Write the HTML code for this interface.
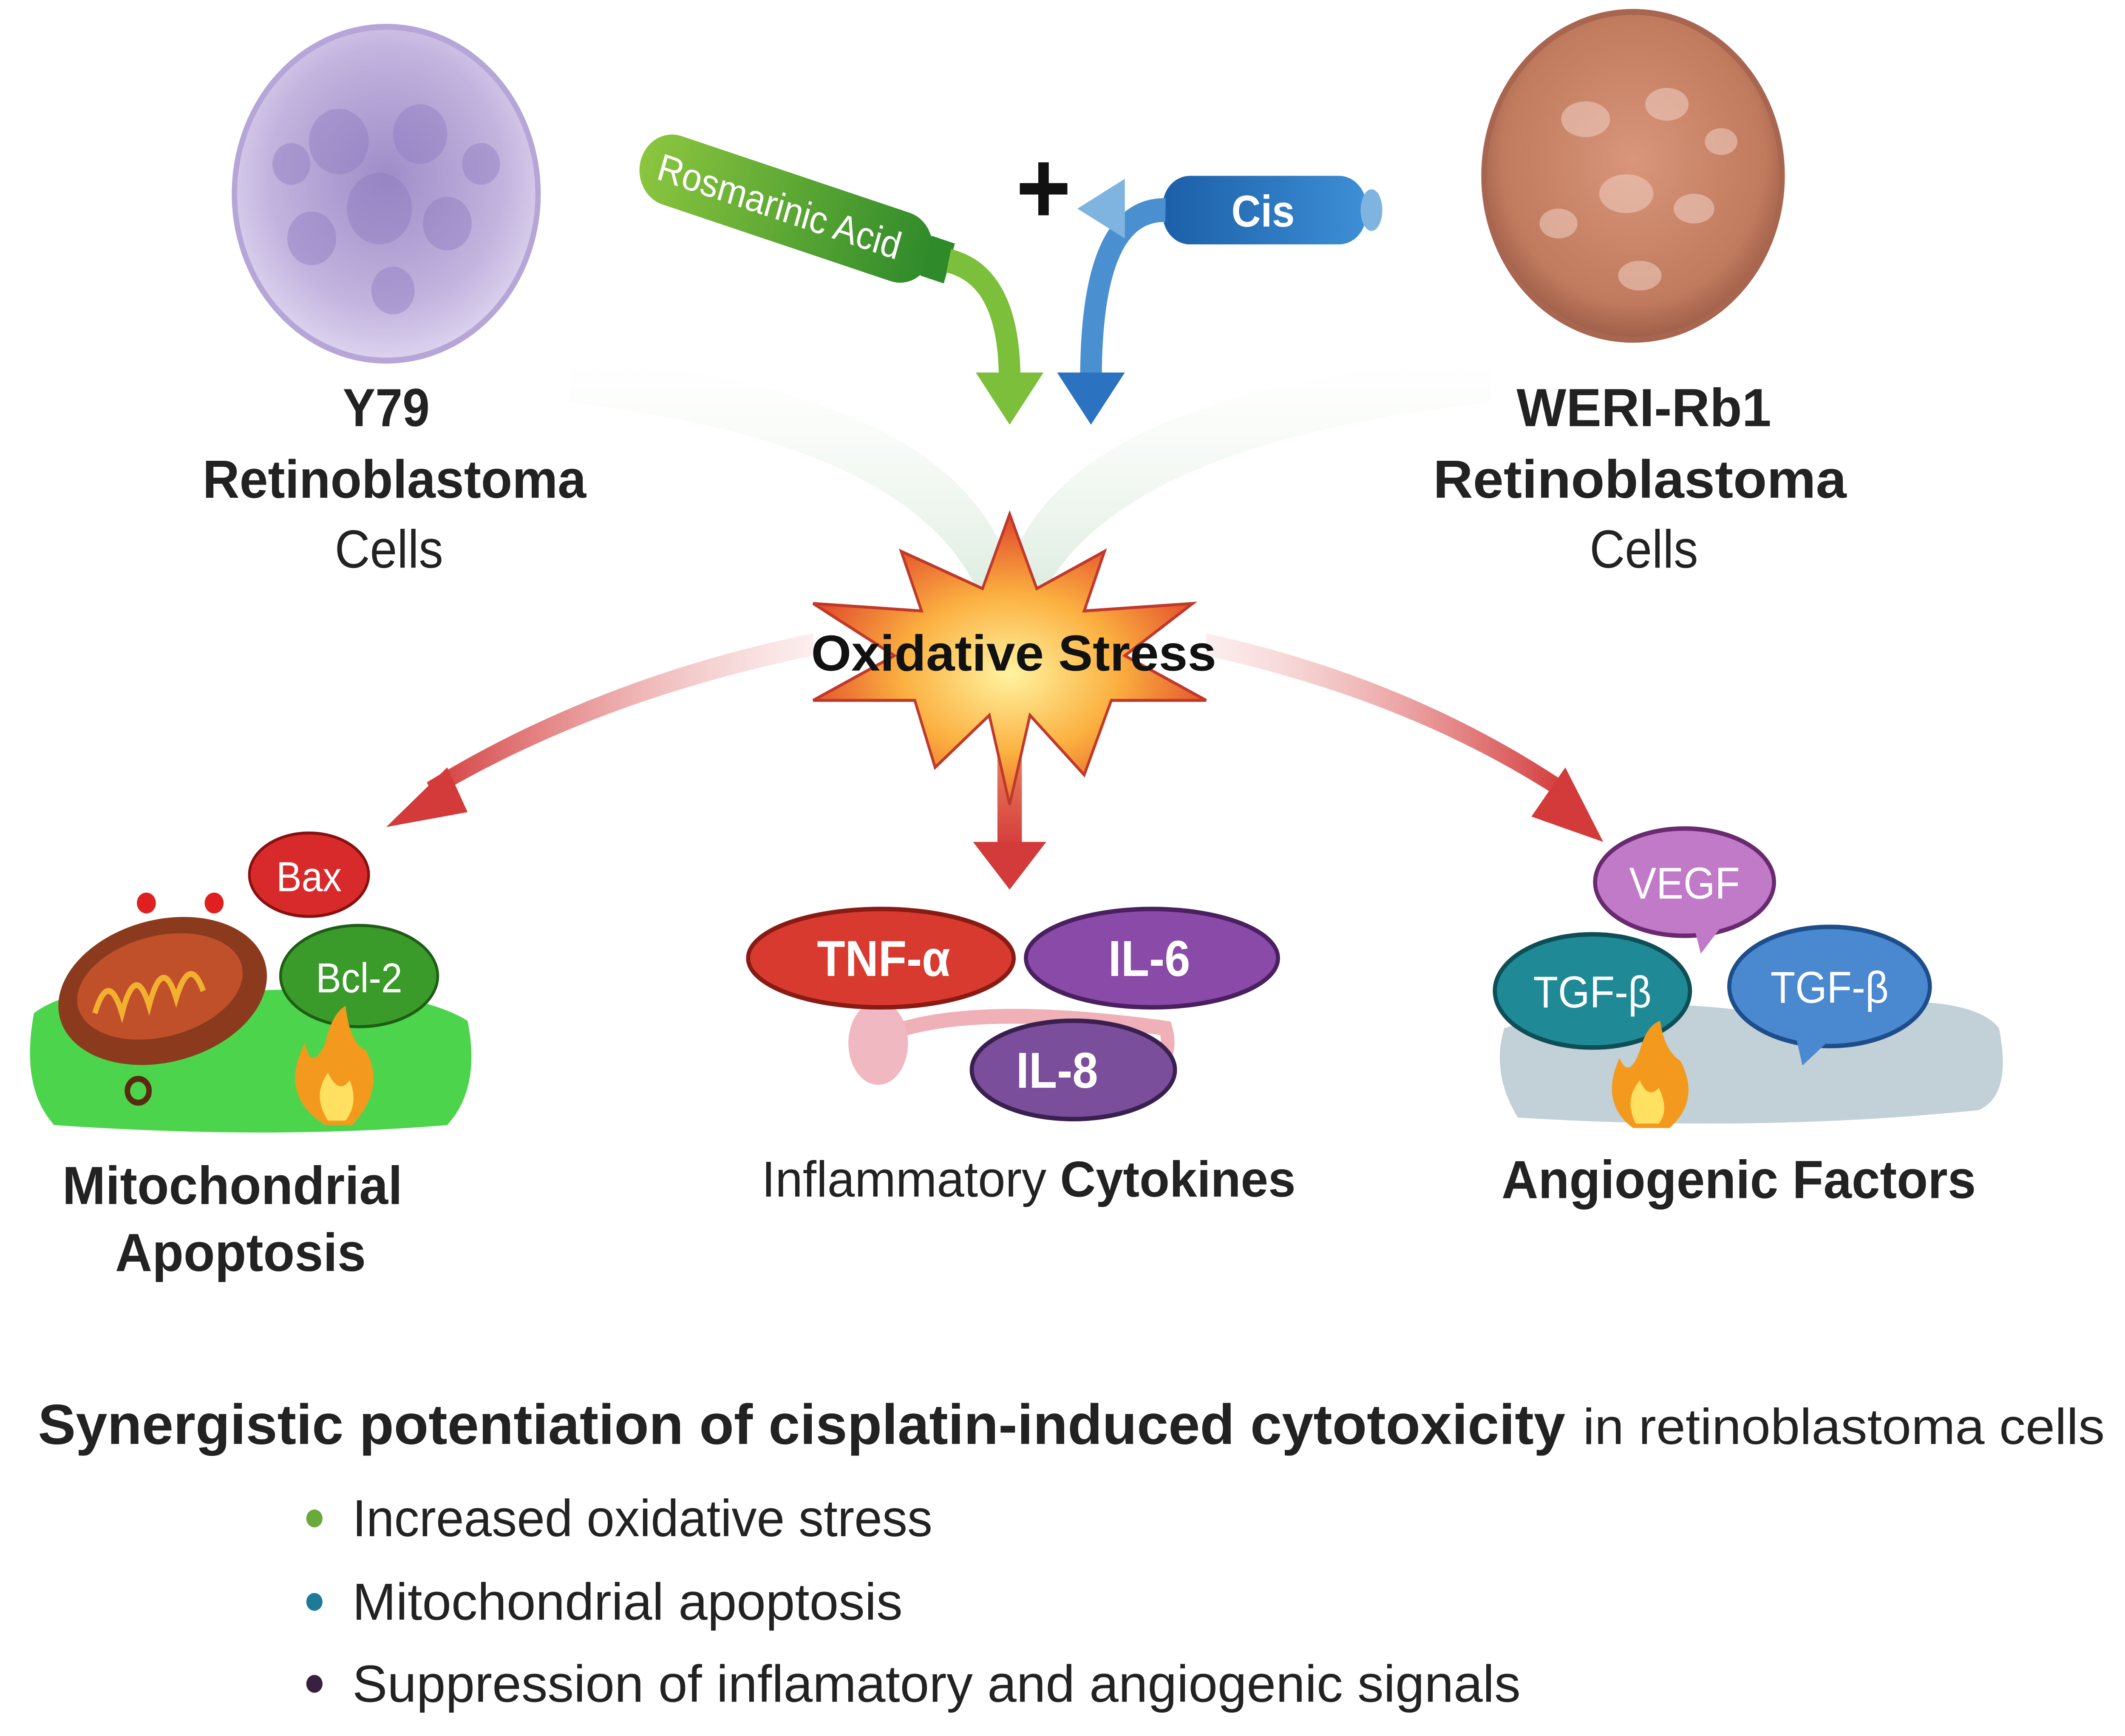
<!DOCTYPE html>
<html><head><meta charset="utf-8"><style>
html,body{margin:0;padding:0;background:#fff;overflow:hidden;width:100%;height:100%;}
svg{display:block;width:100vw;height:100vh;}
text{font-family:"Liberation Sans",Arial,sans-serif;}
</style></head><body>
<svg viewBox="0 0 1568 1165" preserveAspectRatio="none" xmlns="http://www.w3.org/2000/svg">
<defs>
<radialGradient id="purp" cx="50%" cy="45%" r="55%"><stop offset="0" stop-color="#9f8cc8"/><stop offset="0.7" stop-color="#c2b3de"/><stop offset="1" stop-color="#ddd3ee"/></radialGradient>
<radialGradient id="brown" cx="50%" cy="45%" r="55%"><stop offset="0" stop-color="#d9967a"/><stop offset="0.8" stop-color="#c07a5e"/><stop offset="1" stop-color="#9e5e48"/></radialGradient>
<radialGradient id="burst" cx="50%" cy="55%" r="55%"><stop offset="0" stop-color="#fff3a0"/><stop offset="0.5" stop-color="#fbb040"/><stop offset="1" stop-color="#e0452a"/></radialGradient>
<linearGradient id="gtube" x1="0" x2="1"><stop offset="0" stop-color="#8cc63f"/><stop offset="1" stop-color="#2f8a2a"/></linearGradient>
<linearGradient id="btube" x1="0" x2="1"><stop offset="0" stop-color="#1b5fa8"/><stop offset="1" stop-color="#3d8fd6"/></linearGradient>
<linearGradient id="redL" x1="1" x2="0"><stop offset="0" stop-color="#f4c7c7" stop-opacity="0.3"/><stop offset="1" stop-color="#d33a3a"/></linearGradient>
<linearGradient id="redR" x1="0" x2="1"><stop offset="0" stop-color="#f4c7c7" stop-opacity="0.3"/><stop offset="1" stop-color="#d33a3a"/></linearGradient>
<linearGradient id="redD" x1="0" y1="0" x2="0" y2="1"><stop offset="0" stop-color="#f29a6a"/><stop offset="1" stop-color="#d33a3a"/></linearGradient>
<linearGradient id="glow" x1="0" y1="0" x2="0" y2="1"><stop offset="0" stop-color="#e8f2e0" stop-opacity="0"/><stop offset="1" stop-color="#b8d8c0" stop-opacity="0.6"/></linearGradient>
</defs>
<path d="M420 240 Q700 260 745 380 Q790 260 1100 240 L1100 270 Q800 300 760 420 L730 420 Q700 300 420 270 Z" fill="url(#glow)"/>
<circle cx="285" cy="130" r="112" fill="url(#purp)" stroke="#b6a6d8" stroke-width="4"/>
<g fill="#8f7cc0" opacity="0.45">
<circle cx="250" cy="95" r="22"/><circle cx="310" cy="90" r="20"/><circle cx="280" cy="140" r="24"/><circle cx="330" cy="150" r="18"/><circle cx="230" cy="160" r="18"/><circle cx="290" cy="195" r="16"/><circle cx="215" cy="110" r="14"/><circle cx="355" cy="110" r="14"/>
</g>
<circle cx="1205" cy="118" r="110" fill="url(#brown)" stroke="#a86650" stroke-width="4"/>
<g fill="#f0d0c4" opacity="0.55">
<ellipse cx="1170" cy="80" rx="18" ry="12"/><ellipse cx="1230" cy="70" rx="16" ry="11"/><ellipse cx="1200" cy="130" rx="20" ry="13"/><ellipse cx="1250" cy="140" rx="15" ry="10"/><ellipse cx="1150" cy="150" rx="14" ry="10"/><ellipse cx="1210" cy="185" rx="16" ry="10"/><ellipse cx="1270" cy="95" rx="12" ry="9"/>
</g>
<g font-size="36" font-weight="bold" fill="#222" text-anchor="middle" lengthAdjust="spacingAndGlyphs">
<text x="285" y="286">Y79</text>
<text x="291" y="334" textLength="283" lengthAdjust="spacingAndGlyphs">Retinoblastoma</text>
<text x="1213" y="286" textLength="188" lengthAdjust="spacingAndGlyphs">WERI-Rb1</text>
<text x="1210" y="334" textLength="305" lengthAdjust="spacingAndGlyphs">Retinoblastoma</text>
</g>
<g font-size="36" fill="#222" text-anchor="middle">
<text x="287" y="381">Cells</text>
<text x="1213" y="381">Cells</text>
</g>
<g transform="translate(580,140) rotate(17)">
<rect x="-112" y="-24" width="224" height="48" rx="24" fill="url(#gtube)"/>
<rect x="108" y="-14" width="18" height="28" fill="#2f8a2a"/>
<text x="-5" y="9" font-size="26" fill="#fff" text-anchor="middle">Rosmarinic Acid</text>
</g>
<path d="M700 175 Q745 185 745 255" stroke="#7cbf3a" stroke-width="16" fill="none"/>
<polygon points="720,250 770,250 745,285" fill="#7cbf3a"/>
<text x="770" y="150" font-size="70" font-weight="bold" text-anchor="middle" fill="#111">+</text>
<rect x="858" y="118" width="150" height="46" rx="20" fill="url(#btube)"/>
<ellipse cx="1012" cy="141" rx="8" ry="14" fill="#7fb4e0"/>
<text x="932" y="152" font-size="30" font-weight="bold" fill="#fff" text-anchor="middle">Cis</text>
<path d="M860 141 Q805 140 805 255" stroke="#4a90d0" stroke-width="16" fill="none"/>
<polygon points="780,250 830,250 805,285" fill="#2b72c0"/>
<polygon points="795,140 830,120 830,160" fill="#7fb4e0"/>
<path d="M600 440 Q440 470 320 535 L315 525 Q440 455 600 425 Z" fill="url(#redL)"/>
<polygon points="285,555 330,515 345,545" fill="#d33a3a"/>
<path d="M890 440 Q1040 470 1150 535 L1155 525 Q1040 455 890 425 Z" fill="url(#redR)"/>
<polygon points="1183,565 1130,548 1155,515" fill="#d33a3a"/>
<rect x="736" y="480" width="18" height="90" fill="url(#redD)"/>
<polygon points="718,565 772,565 745,597" fill="#d33a3a"/>
<polygon points="745,345 765,395 815,370 800,410 880,405 830,440 890,470 820,470 800,520 760,480 745,540 730,480 690,515 675,470 600,470 660,440 600,405 680,410 665,370 725,395" fill="url(#burst)" stroke="#c0392b" stroke-width="2"/>
<text x="748" y="450" font-size="34" font-weight="bold" fill="#111" text-anchor="middle" textLength="299" lengthAdjust="spacingAndGlyphs">Oxidative Stress</text>
<path d="M25 680 Q60 655 180 665 Q300 660 345 685 Q355 730 330 755 Q200 765 40 755 Q15 730 25 680Z" fill="#4cd44c"/>
<ellipse cx="120" cy="665" rx="78" ry="48" fill="#8b3a1e" transform="rotate(-12 120 665)"/>
<ellipse cx="118" cy="662" rx="62" ry="34" fill="#c0502a" transform="rotate(-12 118 662)"/>
<path d="M70 680 q10 -30 20 0 q10 -35 20 -5 q10 -35 20 -5 q10 -30 20 -5" stroke="#f2b030" stroke-width="4" fill="none"/>
<circle cx="108" cy="606" r="7" fill="#e02020"/><circle cx="158" cy="606" r="7" fill="#e02020"/>
<circle cx="102" cy="732" r="8" fill="none" stroke="#5a2a10" stroke-width="4"/>
<ellipse cx="228" cy="587" rx="44" ry="28" fill="#d82a2a" stroke="#8a1010" stroke-width="2"/>
<text x="228" y="598" font-size="28" fill="#fff" text-anchor="middle">Bax</text>
<ellipse cx="265" cy="655" rx="58" ry="34" fill="#3a9a2a" stroke="#1e5e14" stroke-width="2"/>
<text x="265" y="666" font-size="28" fill="#fff" text-anchor="middle">Bcl-2</text>
<path d="M240 755 Q205 735 225 700 Q230 720 240 700 Q245 680 255 675 Q258 700 270 705 Q285 730 260 755Z" fill="#f39a1e"/>
<path d="M242 752 Q230 735 242 720 Q250 735 258 725 Q265 740 255 752Z" fill="#ffe060"/>
<path d="M640 700 Q700 670 860 690 Q870 720 820 735" stroke="#f0b0b8" stroke-width="10" fill="none"/>
<ellipse cx="648" cy="700" rx="22" ry="28" fill="#f0b8c0"/>
<ellipse cx="650" cy="643" rx="98" ry="33" fill="#d83a30" stroke="#8a1a14" stroke-width="3"/>
<text x="652" y="655" font-size="34" font-weight="bold" fill="#fff" text-anchor="middle">TNF-α</text>
<ellipse cx="850" cy="643" rx="93" ry="33" fill="#8a4aa8" stroke="#4a2060" stroke-width="3"/>
<text x="848" y="655" font-size="34" font-weight="bold" fill="#fff" text-anchor="middle">IL-6</text>
<ellipse cx="792" cy="718" rx="75" ry="33" fill="#7a4e9a" stroke="#3a2050" stroke-width="3"/>
<text x="780" y="730" font-size="34" font-weight="bold" fill="#fff" text-anchor="middle">IL-8</text>
<path d="M1110 690 Q1200 665 1300 680 Q1450 660 1475 690 Q1485 735 1460 745 Q1300 760 1120 750 Q1100 720 1110 690Z" fill="#c2d0d8"/>
<ellipse cx="1243" cy="592" rx="66" ry="36" fill="#c07ac8" stroke="#6a2a70" stroke-width="3"/>
<polygon points="1250,622 1270,622 1255,640" fill="#c07ac8"/>
<text x="1243" y="603" font-size="30" fill="#fff" text-anchor="middle">VEGF</text>
<ellipse cx="1175" cy="665" rx="72" ry="38" fill="#1f8a96" stroke="#0e4e56" stroke-width="3"/>
<text x="1175" y="676" font-size="30" fill="#fff" text-anchor="middle">TGF-β</text>
<ellipse cx="1350" cy="662" rx="74" ry="40" fill="#4a88d0" stroke="#1e4e8a" stroke-width="3"/>
<polygon points="1325,695 1350,698 1330,715" fill="#4a88d0"/>
<text x="1350" y="673" font-size="30" fill="#fff" text-anchor="middle">TGF-β</text>
<path d="M1205 757 Q1180 740 1195 710 Q1202 725 1210 705 Q1215 688 1225 685 Q1228 705 1240 712 Q1255 738 1232 757Z" fill="#f39a1e"/>
<path d="M1207 754 Q1198 738 1210 725 Q1216 738 1224 730 Q1232 745 1224 754Z" fill="#ffe060"/>
<g font-size="36" font-weight="bold" fill="#222">
<text x="46" y="808" textLength="251" lengthAdjust="spacingAndGlyphs">Mitochondrial</text>
<text x="85" y="853" textLength="185" lengthAdjust="spacingAndGlyphs">Apoptosis</text>
<text x="1108" y="804" textLength="350" lengthAdjust="spacingAndGlyphs">Angiogenic Factors</text>
</g>
<text x="562" y="803" font-size="34" fill="#222" textLength="394" lengthAdjust="spacingAndGlyphs">Inflammatory <tspan font-weight="bold">Cytokines</tspan></text>
<text x="28" y="969" font-size="38" font-weight="bold" fill="#222" textLength="1127" lengthAdjust="spacingAndGlyphs">Synergistic potentiation of cisplatin-induced cytotoxicity</text>
<text x="1168" y="969" font-size="34" fill="#222" textLength="385" lengthAdjust="spacingAndGlyphs">in retinoblastoma cells</text>
<circle cx="232" cy="1019" r="6" fill="#6aaa3a"/>
<circle cx="232" cy="1075" r="6" fill="#1f7a9a"/>
<circle cx="232" cy="1130" r="6" fill="#3a2040"/>
<g font-size="35" fill="#222">
<text x="260" y="1031" textLength="428" lengthAdjust="spacingAndGlyphs">Increased oxidative stress</text>
<text x="260" y="1087" textLength="406" lengthAdjust="spacingAndGlyphs">Mitochondrial apoptosis</text>
<text x="260" y="1142" textLength="862" lengthAdjust="spacingAndGlyphs">Suppression of inflamatory and angiogenic signals</text>
</g>
</svg>
</body></html>
